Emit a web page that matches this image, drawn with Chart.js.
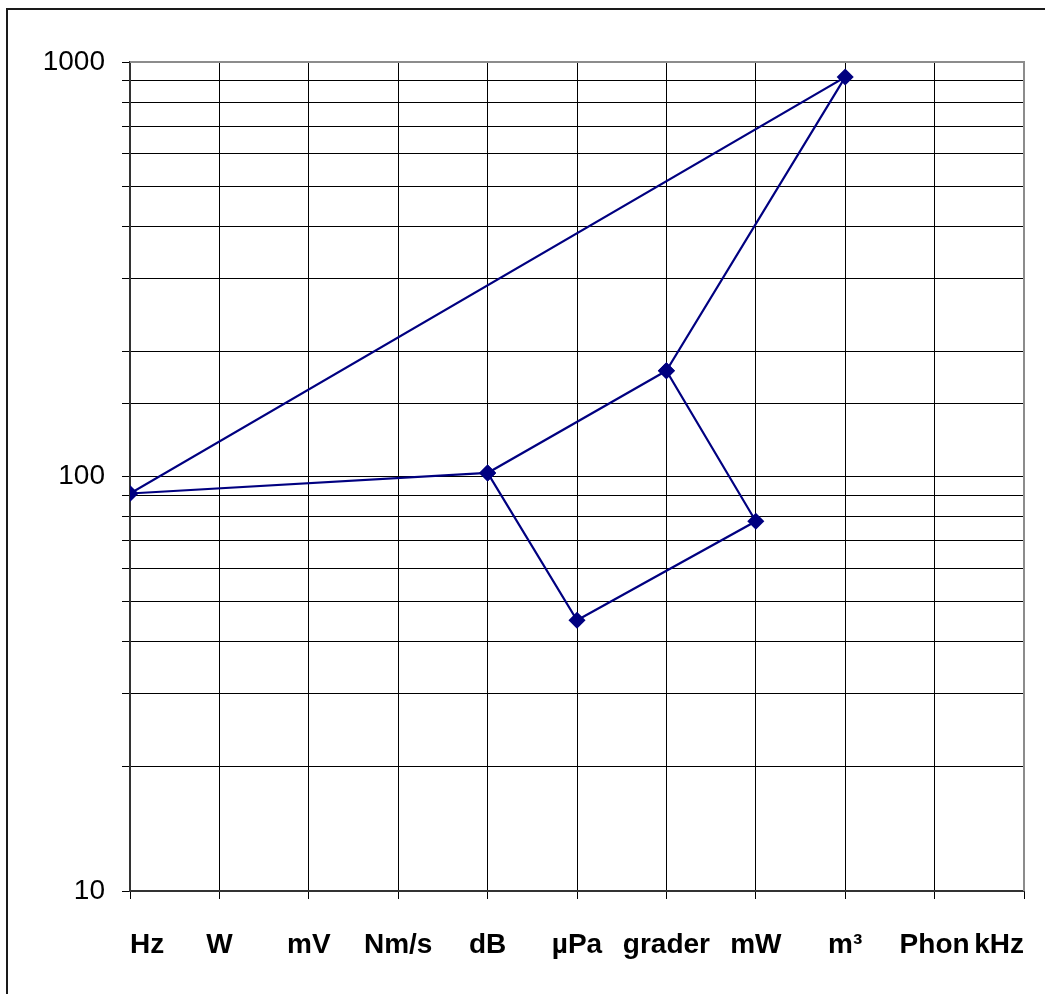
<!DOCTYPE html>
<html>
<head>
<meta charset="utf-8">
<script src="https://cdn.jsdelivr.net/npm/chart.js@4"></script>
<style>
    body { margin: 0; background: #fff; overflow: hidden; }
    #frame { position: absolute; left: 6px; top: 8px; width: 1100px; height: 1100px;
             border-left: 2px solid #1a1a1a; border-top: 2px solid #1a1a1a; }
    #wrap { position: absolute; left: 0; top: 0; }
</style>
</head>
<body>
<div id="frame"></div>
<div id="wrap"><canvas id="chart" width="1045" height="994"></canvas></div>
<script>

// x-axis categories (tick labels)
const categories = ['Hz', 'W', 'mV', 'Nm/s', 'dB', '\u00b5Pa', 'grader', 'mW', 'm\u00b3', 'Phon', 'kHz'];

// the line visits these categories in this order
const seriesCats = ['dB', 'Hz', 'm\u00b3', 'grader', 'mW', '\u00b5Pa', 'dB', 'grader'];
const seriesValues = [102, 91, 920, 180, 78, 45, 102, 180];

// labelled y ticks
const yLabels = [10, 100, 1000];

function createChart(chartId) {

    const ctx = document.getElementById(chartId).getContext('2d');

    // Build the points from the category positions
    let points = [];
    seriesCats.forEach((cat, i) => {
        points.push({ x: categories.indexOf(cat), y: seriesValues[i] });
    });

    // Gray border on top and right of the plot area
    const plotBorder = {
        id: 'plotBorder',
        afterDraw(chart) {
            const a = chart.chartArea;
            const c = chart.ctx;
            c.save();
            c.strokeStyle = '#8c8c8c';
            c.lineWidth = 2;
            c.beginPath();
            c.moveTo(a.left, a.top);
            c.lineTo(a.right, a.top);
            c.lineTo(a.right, a.bottom);
            c.stroke();
            c.restore();
        }
    };

    const myChart = new Chart(ctx, {
        type: 'scatter',
        data: {
            datasets: [{
                data: points,
                showLine: true,
                borderColor: '#000080',
                backgroundColor: '#000080',
                borderWidth: 2.2,
                pointStyle: 'rectRot',
                pointRadius: 7,
                pointHoverRadius: 7
            }]
        },
        options: {
            responsive: false,
            animation: false,
            layout: { padding: { top: 62, right: 21, left: 0, bottom: 0 } },
            plugins: {
                legend: { display: false },
                tooltip: { enabled: false }
            },
            scales: {
                x: {
                    type: 'linear',
                    min: 0,
                    max: categories.length - 1,
                    afterFit: (scale) => {
                        scale.height = 103;
                        // labels are aligned inside, so no overhang needed
                        scale.paddingLeft = 0;
                        scale.paddingRight = 0;
                    },
                    grid: { color: '#000', lineWidth: 1, tickLength: 8 },
                    border: { color: '#333', width: 2 },
                    ticks: {
                        stepSize: 1,
                        autoSkip: false,
                        maxRotation: 0,
                        align: 'inner',
                        padding: 29,
                        color: '#000',
                        font: { family: 'Liberation Sans, Arial', size: 28, weight: 'bold' },
                        callback: (value) => categories[value]
                    }
                },
                y: {
                    type: 'logarithmic',
                    min: 10,
                    max: 1000,
                    afterFit: (scale) => { scale.width = 130; },
                    grid: { color: '#000', lineWidth: 1, tickLength: 8 },
                    border: { color: '#333', width: 2 },
                    ticks: {
                        autoSkip: false,
                        padding: 17,
                        color: '#000',
                        font: { family: 'Liberation Sans, Arial', size: 28 },
                        callback: (value) => yLabels.includes(value) ? String(value) : ''
                    }
                }
            }
        },
        plugins: [plotBorder]
    });
    return myChart;
}

window.onload = createChart('chart');
</script>
</body>
</html>
